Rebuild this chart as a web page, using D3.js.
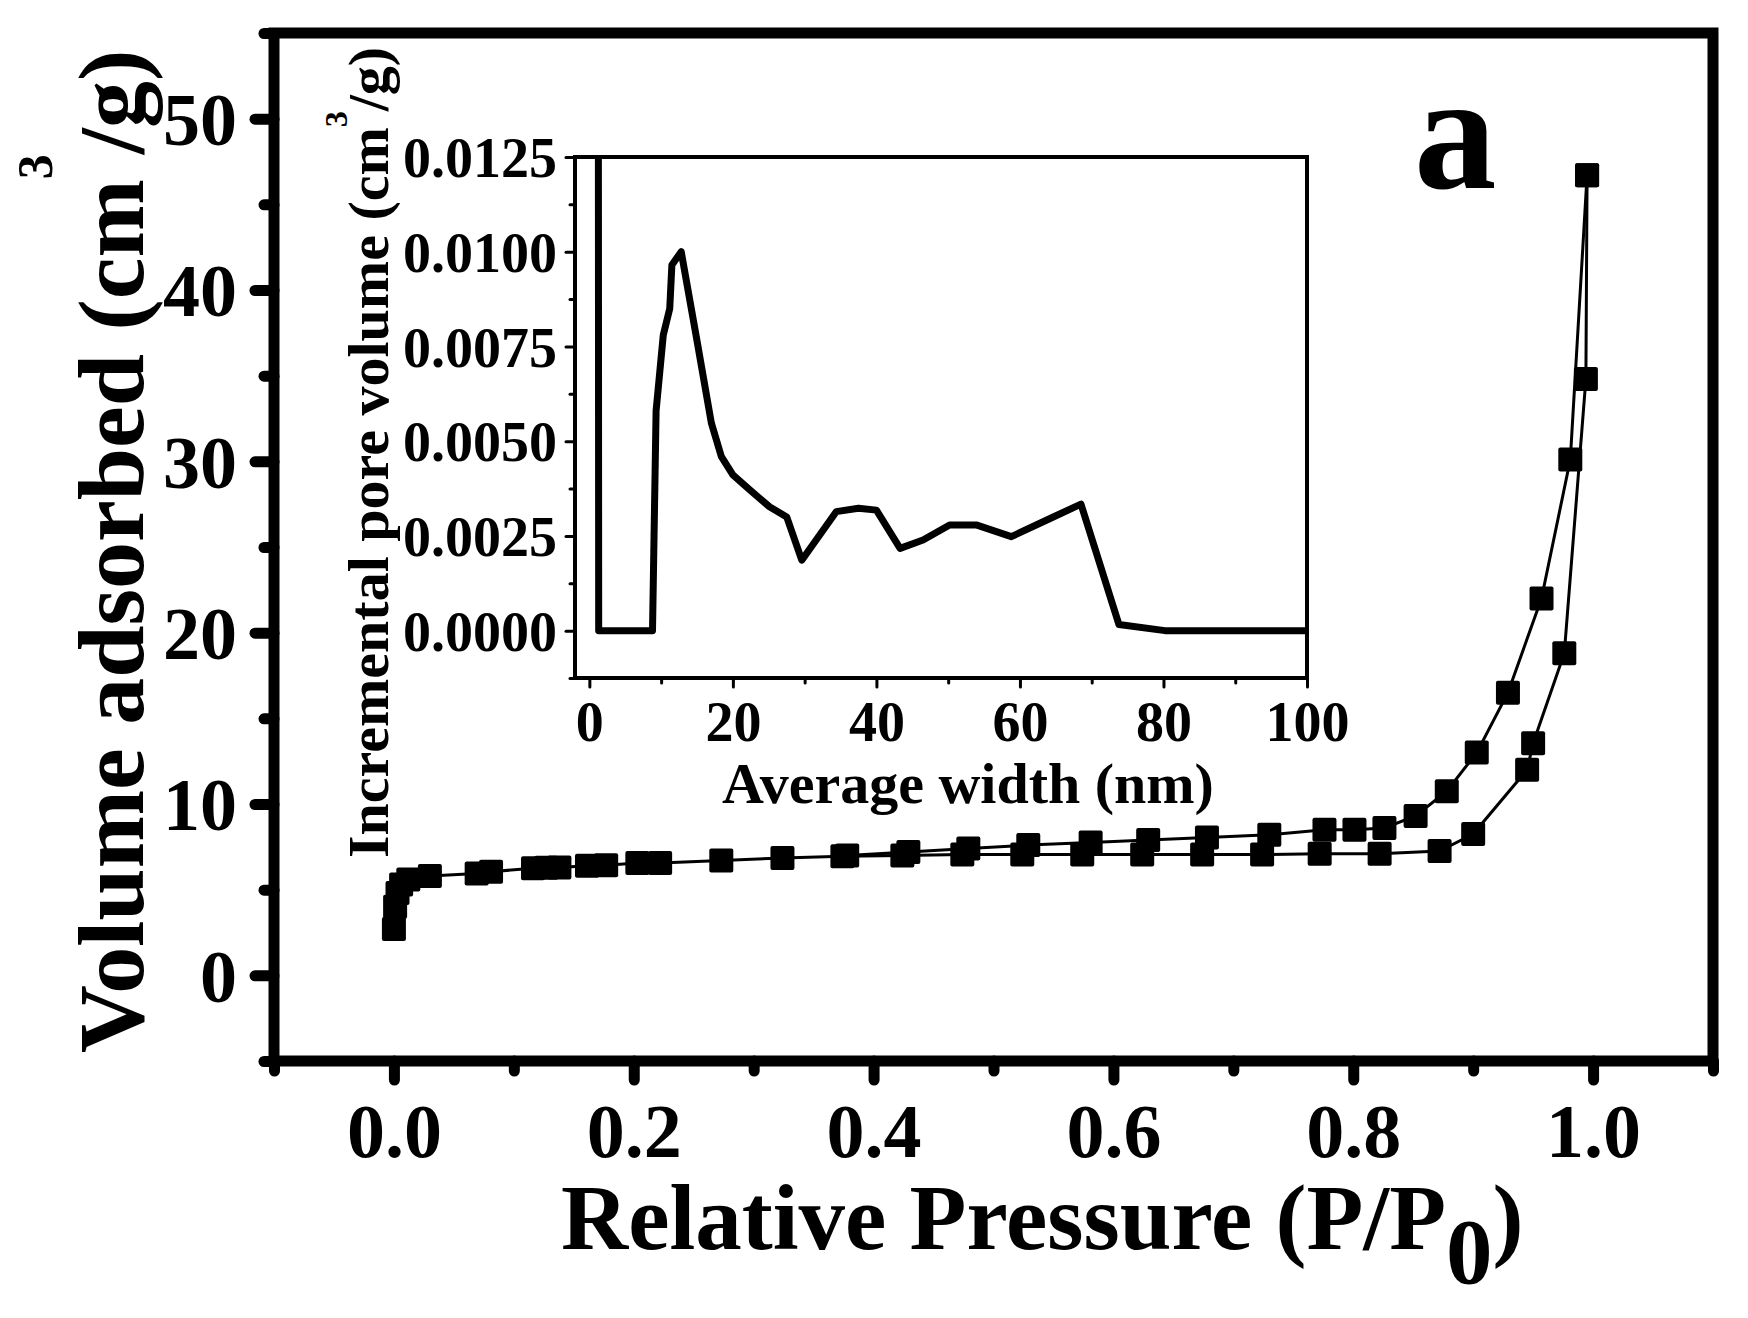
<!DOCTYPE html>
<html><head><meta charset="utf-8">
<script src="https://cdn.jsdelivr.net/npm/d3@7"></script>
<style>
html,body{margin:0;padding:0;background:#fff}
text{font-family:"Liberation Serif","Times New Roman",serif;font-weight:bold;fill:#000}
</style>
</head><body>
<svg id="c" width="1748" height="1318"></svg>
<script>
// ---- main isotherm data ----
const adsX = [0.000, 0.001, 0.003, 0.006, 0.012, 0.030, 0.069, 0.081, 0.116, 0.127, 0.138, 0.161, 0.177, 0.203, 0.222, 0.273, 0.324, 0.374, 0.424, 0.474, 0.524, 0.574, 0.624, 0.674, 0.724, 0.772, 0.822, 0.872, 0.900, 0.945, 0.950, 0.976, 0.994, 0.995];
const adsY = [2.7, 4.0, 4.8, 5.3, 5.6, 5.8, 5.95, 6.05, 6.25, 6.28, 6.3, 6.4, 6.42, 6.55, 6.55, 6.7, 6.85, 6.95, 7.0, 7.05, 7.05, 7.05, 7.05, 7.05, 7.05, 7.1, 7.1, 7.25, 8.25, 12.0, 13.55, 18.8, 34.8, 46.7];
const desX = [0.995, 0.981, 0.957, 0.929, 0.903, 0.878, 0.852, 0.826, 0.801, 0.776, 0.730, 0.678, 0.629, 0.581, 0.529, 0.479, 0.429, 0.378];
const desY = [46.7, 30.1, 22.0, 16.5, 13.0, 10.75, 9.3, 8.6, 8.5, 8.5, 8.2, 8.05, 7.9, 7.75, 7.6, 7.4, 7.2, 7.0];

const mainXMajor = [0, 0.2, 0.4, 0.6, 0.8, 1.0];
const mainXMinor = [-0.1, 0.1, 0.3, 0.5, 0.7, 0.9, 1.1];
const mainYMajor = [0, 10, 20, 30, 40, 50];
const mainYMinor = [-5, 5, 15, 25, 35, 45, 55];

// ---- inset pore size distribution ----
const psdX = [1.2, 1.3, 8.8, 9.3, 10.3, 11.2, 11.5, 12.8, 14.9, 17.0, 18.4, 20.0, 22.4, 25.1, 27.5, 29.6, 34.4, 37.5, 40.0, 43.3, 46.5, 50.2, 53.9, 58.8, 64.2, 68.5, 73.8, 80.2, 100];
const psdY = [0.03, 0, 0, 0.0058, 0.0078, 0.0085, 0.00965, 0.0100, 0.00776, 0.00548, 0.00459, 0.00411, 0.00371, 0.00327, 0.0030, 0.00186, 0.00314, 0.00323, 0.00318, 0.00217, 0.00239, 0.00279, 0.00279, 0.00248, 0.00296, 0.00334, 0.00016, 0.0, 0.0];

const insXMajor = [0, 20, 40, 60, 80, 100];
const insXMinor = [10, 30, 50, 70, 90];
const insYMajor = [0, 0.0025, 0.005, 0.0075, 0.01, 0.0125];
const insYMinor = [-0.00125, 0.00125, 0.00375, 0.00625, 0.00875, 0.01125];

const svg = d3.select("#c");
svg.append("rect").attr("width",1748).attr("height",1318).attr("fill","#fff");

// main scales
const x = d3.scaleLinear().domain([-0.1, 1.1]).range([274, 1713]);
const y = d3.scaleLinear().domain([-5, 55]).range([1061, 33]);

function styleAxis(g, sw){
  g.select(".domain").remove();
  g.selectAll(".tick line").attr("stroke","#000").attr("stroke-width",sw).attr("stroke-linecap","round");
}

// main y axis
const gyMin = svg.append("g").attr("transform",`translate(${x(-0.1)},0)`)
  .call(d3.axisLeft(y).tickValues(mainYMinor).tickSize(10).tickFormat(""));
styleAxis(gyMin, 11);
const gy = svg.append("g").attr("transform",`translate(${x(-0.1)},0)`)
  .call(d3.axisLeft(y).tickValues(mainYMajor).tickSize(19).tickPadding(18).tickFormat(d3.format("d")));
styleAxis(gy, 11);
gy.selectAll(".tick text").attr("font-size",74).attr("dy","0.35em").attr("fill","#000");

// main x axis
const gxMin = svg.append("g").attr("transform",`translate(0,${y(-5)})`)
  .call(d3.axisBottom(x).tickValues(mainXMinor).tickSize(10).tickFormat(""));
styleAxis(gxMin, 11);
const gx = svg.append("g").attr("transform",`translate(0,${y(-5)})`)
  .call(d3.axisBottom(x).tickValues(mainXMajor).tickSize(19).tickFormat(d3.format(".1f")));
styleAxis(gx, 11);
gx.selectAll(".tick text").attr("font-size",76).attr("y",96).attr("dy",0).attr("fill","#000");

// frame
svg.append("rect").attr("x",x(-0.1)).attr("y",y(55)).attr("width",x(1.1)-x(-0.1)).attr("height",y(-5)-y(55))
  .attr("fill","none").attr("stroke","#000").attr("stroke-width",11);

// series
const line = d3.line().x(d=>x(d[0])).y(d=>y(d[1]));
const ads = adsX.map((v,i)=>[v, adsY[i]]);
const des = desX.map((v,i)=>[v, desY[i]]);
[ads, des].forEach(s=>{
  svg.append("path").attr("d", line(s)).attr("fill","none").attr("stroke","#000").attr("stroke-width",3);
});
const ms = 24;
[ads, des].forEach(s=>{
  svg.append("g").selectAll("rect").data(s).join("rect")
    .attr("x",d=>x(d[0])-ms/2).attr("y",d=>y(d[1])-ms/2).attr("width",ms).attr("height",ms)
    .attr("rx",2).attr("fill","#000");
});

// axis titles
svg.append("text").attr("x",561).attr("y",1249).attr("font-size",93)
  .call(t=>{
    t.append("tspan").text("Relative Pressure (P/P");
    t.append("tspan").attr("dy",34).text("0");
    t.append("tspan").attr("dy",-34).text(")");
  });

svg.append("text").attr("transform","translate(143,1053) rotate(-90)").attr("font-size",94)
  .call(t=>{
    t.append("tspan").text("Volume adsorbed (cm");
    t.append("tspan").attr("font-size",50).attr("dy",-91).text("3");
    t.append("tspan").attr("dy",91).text("/g)");
  });

svg.append("text").attr("x",1414).attr("y",188).attr("font-size",165).text("a");

// ---- inset ----
const ix = d3.scaleLinear().domain([-2, 100]).range([575, 1307]);
const iy = d3.scaleLinear().domain([-0.00125, 0.0125]).range([678, 157]);

svg.append("rect").attr("x",ix(-2)).attr("y",iy(0.0125)).attr("width",ix(100)-ix(-2)).attr("height",iy(-0.00125)-iy(0.0125))
  .attr("fill","#fff");

svg.append("defs").append("clipPath").attr("id","insclip").append("rect")
  .attr("x",ix(-2)).attr("y",iy(0.0125)).attr("width",ix(100)-ix(-2)).attr("height",iy(-0.00125)-iy(0.0125));

const iyMin = svg.append("g").attr("transform",`translate(${ix(-2)},0)`)
  .call(d3.axisLeft(iy).tickValues(insYMinor).tickSize(5).tickFormat(""));
styleAxis(iyMin, 3);
const iyg = svg.append("g").attr("transform",`translate(${ix(-2)},0)`)
  .call(d3.axisLeft(iy).tickValues(insYMajor).tickSize(9).tickPadding(9).tickFormat(d3.format(".4f")));
styleAxis(iyg, 3);
iyg.selectAll(".tick text").attr("font-size",56).attr("dy","0.35em").attr("fill","#000");

const ixMin = svg.append("g").attr("transform",`translate(0,${iy(-0.00125)})`)
  .call(d3.axisBottom(ix).tickValues(insXMinor).tickSize(5).tickFormat(""));
styleAxis(ixMin, 3);
const ixg = svg.append("g").attr("transform",`translate(0,${iy(-0.00125)})`)
  .call(d3.axisBottom(ix).tickValues(insXMajor).tickSize(9).tickFormat(d3.format("d")));
styleAxis(ixg, 3);
ixg.selectAll(".tick text").attr("font-size",56).attr("y",63).attr("dy",0).attr("fill","#000");

const psd = psdX.map((v,i)=>[v, psdY[i]]);
svg.append("path").attr("clip-path","url(#insclip)")
  .attr("d", d3.line().x(d=>ix(d[0])).y(d=>iy(d[1]))(psd))
  .attr("fill","none").attr("stroke","#000").attr("stroke-width",7).attr("stroke-linejoin","round");

svg.append("rect").attr("x",ix(-2)).attr("y",iy(0.0125)).attr("width",ix(100)-ix(-2)).attr("height",iy(-0.00125)-iy(0.0125))
  .attr("fill","none").attr("stroke","#000").attr("stroke-width",4);

svg.append("text").attr("x",968).attr("y",803).attr("text-anchor","middle").attr("font-size",58)
  .text("Average width (nm)");

svg.append("text").attr("transform","translate(388,858) rotate(-90)").attr("font-size",58)
  .call(t=>{
    t.append("tspan").text("Incremental pore volume (cm");
    t.append("tspan").attr("font-size",32).attr("dy",-41).text("3");
    t.append("tspan").attr("dy",41).text("/g)");
  });
</script>
</body></html>
